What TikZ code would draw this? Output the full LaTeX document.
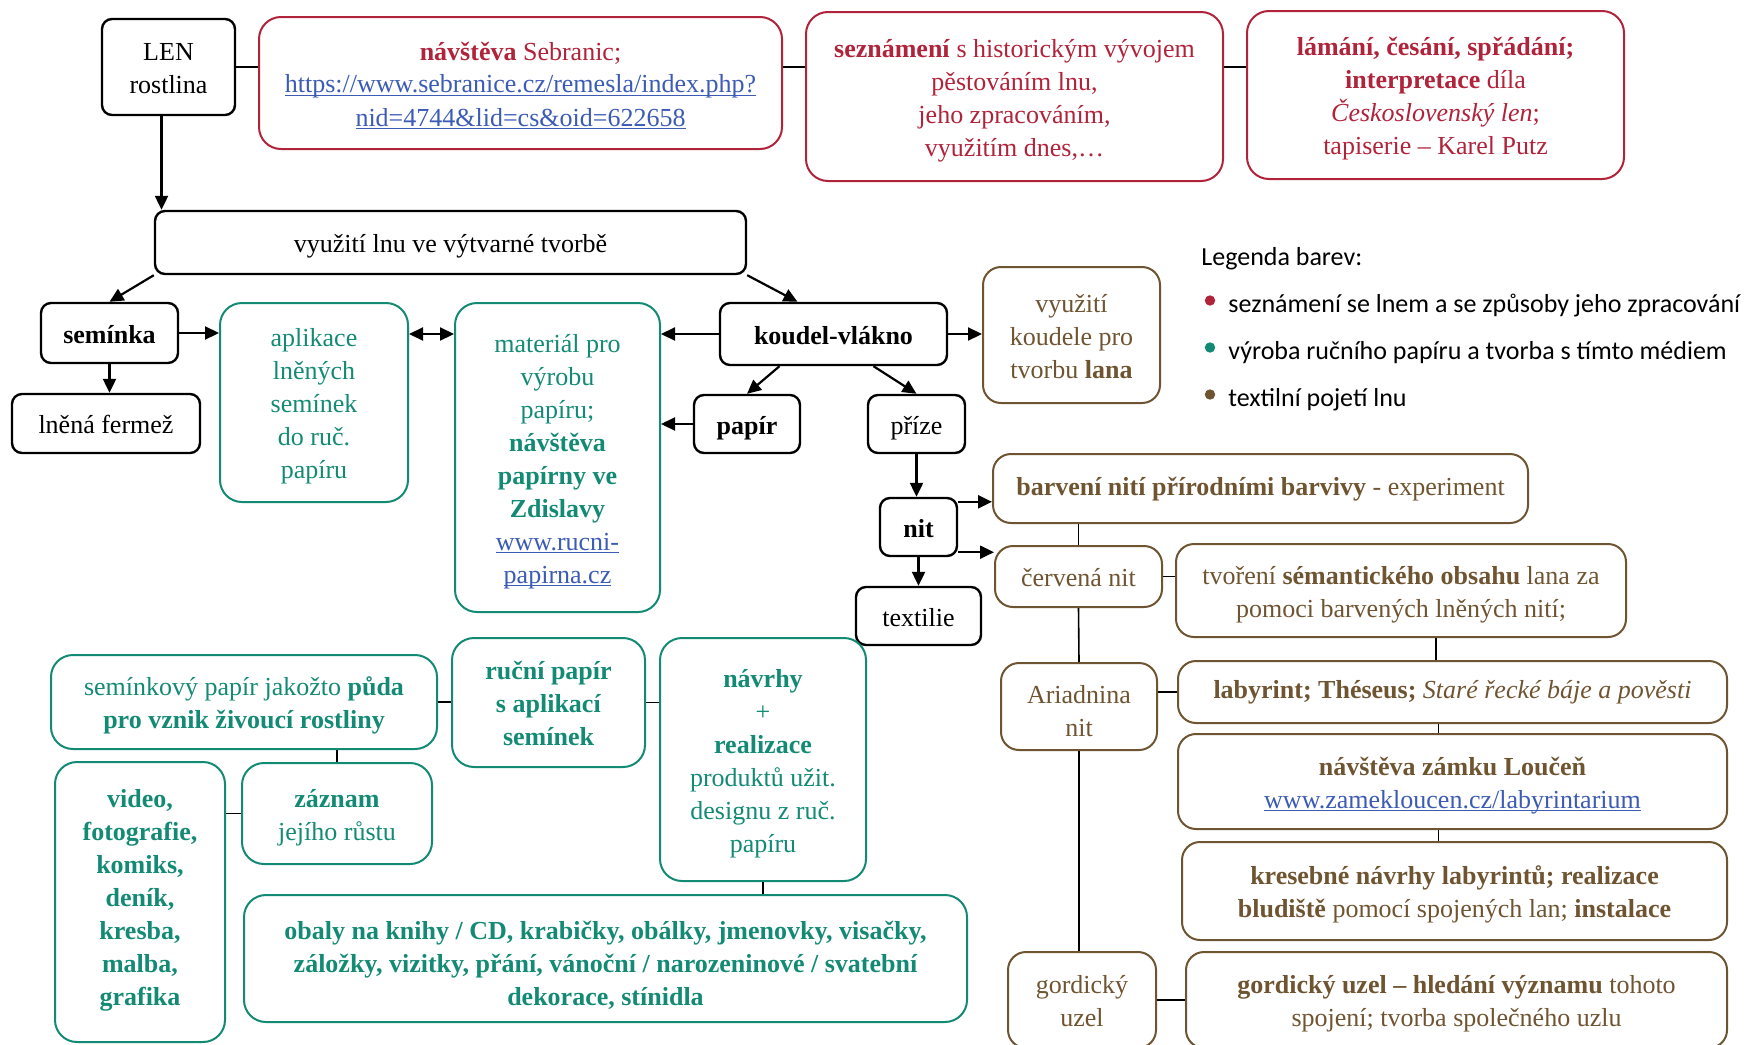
\documentclass[tikz,border=0pt]{standalone}
\usepackage{fontspec}
\setmainfont{Liberation Serif}
\newfontfamily\legendfont{Carlito}
\usetikzlibrary{arrows.meta}
\definecolor{lenred}{HTML}{B0233A}
\definecolor{lengreen}{HTML}{138A74}
\definecolor{lenbrown}{HTML}{6F5431}
\definecolor{lenlink}{HTML}{3B5BB5}
\newcommand{\lnk}[1]{\leavevmode{\color{lenlink}\setbox0\hbox{#1}\rlap{\rule[-1.5pt]{\wd0}{0.55pt}}\box0}}
\newcommand{\lenstrut}{\rule[-3.25pt]{0pt}{16.5pt}}
\begin{document}
\begin{tikzpicture}[x=0.5pt,y=-0.5pt,font=\fontsize{13}{16.5}\selectfont,
  basebox/.style={draw,inner sep=0pt,align=flush center,
    execute at begin node=\lenstrut,execute at end node=\lenstrut},
  boxsize/.style 2 args={text width=#1,minimum height=#2},
  textup/.style={execute at end node={\rule[-#1]{0pt}{#1}}},
  textdown/.style={execute at begin node={\rule{0pt}{#1}}},
  blackbox/.style={basebox,rounded corners=5pt,line width=1.2pt},
  redbox/.style={basebox,rounded corners=11pt,line width=1pt,draw=lenred,text=lenred},
  greenbox/.style={basebox,rounded corners=11pt,line width=1pt,draw=lengreen,text=lengreen},
  brownbox/.style={basebox,rounded corners=9pt,line width=1pt,draw=lenbrown,text=lenbrown},
  arr/.style={line width=1.1pt,-{Triangle[length=7pt,width=6.5pt]}},
  link/.style={line width=0.8pt},
  legend/.style={anchor=west,inner sep=0pt,font=\legendfont\fontsize{13}{16}\selectfont},
  dot/.style={circle,inner sep=0pt,minimum size=5.2pt}]
  \useasboundingbox (0,0) rectangle (1744,1044);
  \clip (0,0) rectangle (1744,1044);
  % top row
  \node[blackbox,boxsize={66.5pt}{48pt}] (len) at (168.5,67) {LEN\\rostlina};
  \node[redbox,boxsize={261.5pt}{66pt}] (sebr) at (520.5,83)
    {\textbf{návštěva} Sebranic;\\\lnk{https://www.sebranice.cz/remesla/index.php?}\\\lnk{nid=4744\&lid=cs\&oid=622658}};
  \node[redbox,boxsize={208.5pt}{84.5pt}] (sezn) at (1014.5,96.5)
    {\textbf{seznámení} s historickým vývojem\\pěstováním lnu,\\jeho zpracováním,\\využitím dnes,…};
  \node[redbox,boxsize={188.5pt}{84pt}] (lamani) at (1435.5,95)
    {\textbf{lámání, česání, spřádání;}\\\textbf{interpretace} díla\\\textit{Československý len};\\tapiserie – Karel Putz};
  \node[blackbox,boxsize={295.5pt}{31.5pt}] (vyuziti) at (450.5,242.5) {využití lnu ve výtvarné tvorbě};
  % middle
  \node[blackbox,boxsize={68.5pt}{30pt}] (seminka) at (109.5,333) {\textbf{semínka}};
  \node[blackbox,boxsize={94pt}{29.5pt}] (fermez) at (106,423.5) {lněná fermež};
  \node[greenbox,boxsize={94pt}{99.5pt}] (aplikace) at (314,402.5)
    {aplikace\\lněných\\semínek\\do ruč.\\papíru};
  \node[greenbox,boxsize={102.5pt}{154.5pt}] (material) at (557.5,457.5)
    {materiál pro\\výrobu\\papíru;\\\textbf{návštěva}\\\textbf{papírny ve}\\\textbf{Zdislavy}\\\lnk{www.rucni-}\\\lnk{papirna.cz}};
  \node[blackbox,boxsize={113.5pt}{31pt}] (koudel) at (833.5,334) {\textbf{koudel-vlákno}};
  \node[brownbox,boxsize={88.5pt}{68pt}] (koudlana) at (1071.5,335)
    {využití\\koudele pro\\tvorbu \textbf{lana}};
  \node[blackbox,boxsize={53pt}{29pt}] (papir) at (747,424) {\textbf{papír}};
  \node[blackbox,boxsize={48.5pt}{29pt}] (prize) at (916.5,424) {příze};
  \node[blackbox,boxsize={38.5pt}{29pt}] (nit) at (918.5,527) {\textbf{nit}};
  \node[blackbox,boxsize={62.5pt}{29pt}] (textilie) at (918.5,616) {textilie};
  % textile branch
  \node[brownbox,boxsize={267.5pt}{34.5pt},textup=6.6pt] (barveni) at (1260.5,488.5)
    {\textbf{barvení nití přírodními barvivy} - experiment};
  \node[brownbox,boxsize={83.5pt}{30.5pt}] (cervena) at (1078.5,576.5) {červená nit};
  \node[brownbox,boxsize={225pt}{46.5pt}] (tvoreni) at (1401,590.5)
    {tvoření \textbf{sémantického obsahu} lana za\\pomoci barvených lněných nití;};
  \node[brownbox,boxsize={78pt}{43.5pt},textdown=16.6pt] (ariadna) at (1079,706.5) {Ariadnina\\nit};
  \node[brownbox,boxsize={274.5pt}{31pt},textup=6.6pt] (labyrint) at (1452.5,692)
    {\textbf{labyrint; Théseus;} \textit{Staré řecké báje a pověsti}};
  \node[brownbox,boxsize={274.5pt}{47.5pt}] (loucen) at (1452.5,781.5)
    {\textbf{návštěva zámku Loučeň}\\\lnk{www.zamekloucen.cz/labyrintarium}};
  \node[brownbox,boxsize={272.5pt}{49pt}] (kresba) at (1454.5,891)
    {\textbf{kresebné návrhy labyrintů; realizace}\\\textbf{bludiště} pomocí spojených lan; \textbf{instalace}};
  \node[brownbox,boxsize={74pt}{48pt}] (gordic) at (1082,1000) {gordický\\uzel};
  \node[brownbox,boxsize={270.5pt}{48pt}] (hledani) at (1456.5,1000)
    {\textbf{gordický uzel – hledání významu} tohoto\\spojení; tvorba společného uzlu};
  % paper branch
  \node[greenbox,boxsize={193pt}{47pt}] (seminpap) at (244,702)
    {semínkový papír jakožto \textbf{půda}\\\textbf{pro vznik živoucí rostliny}};
  \node[greenbox,boxsize={96.5pt}{64.5pt}] (rucni) at (548.5,702.5)
    {\textbf{ruční papír}\\\textbf{s aplikací}\\\textbf{semínek}};
  \node[greenbox,boxsize={103pt}{121.5pt}] (navrhy) at (763,759.5)
    {\textbf{návrhy}\\+\\\textbf{realizace}\\produktů užit.\\designu z ruč.\\papíru};
  \node[greenbox,boxsize={85pt}{140pt},textup=8.8pt,font=\fontsize{13}{16.5}\selectfont\bfseries] (video) at (140,902)
    {video,\\fotografie,\\komiks,\\deník,\\kresba,\\malba,\\grafika};
  \node[greenbox,boxsize={95pt}{50.5pt}] (zaznam) at (337,813.5) {\textbf{záznam}\\jejího růstu};
  \node[greenbox,boxsize={361.5pt}{63.5pt},textdown=17.6pt,font=\fontsize{13}{16.5}\selectfont\bfseries] (obaly) at (605.5,958.5)
    {obaly na knihy / CD, krabičky, obálky, jmenovky, visačky,\\záložky, vizitky, přání, vánoční / narozeninové / svatební\\dekorace, stínidla};
  % legend
  \node[legend] (legtitle) at (1201,259) {Legenda barev:};
  \node[dot,fill=lenred] (dotred) at (1210,300.5) {};
  \node[dot,fill=lengreen] (dotgreen) at (1210,347.5) {};
  \node[dot,fill=lenbrown] (dotbrown) at (1210,394.5) {};
  \node[legend] (legred) at (1228,305.5) {seznámení se lnem a se způsoby jeho zpracování};
  \node[legend] (leggreen) at (1228,352.5) {výroba ručního papíru a tvorba s tímto médiem};
  \node[legend] (legbrown) at (1228,399.5) {textilní pojetí lnu};
  % arrows
  \draw[arr] ([xshift=-3.5pt]len.south) -- ([xshift=-3.5pt]len.south |- vyuziti.north);
  \draw[arr] (vyuziti.south west) -- (seminka.north);
  \draw[arr] (vyuziti.south east) -- ([xshift=-18pt]koudel.north);
  \draw[arr] (seminka.east) -- (aplikace.west |- seminka.east);
  \draw[line width=1.1pt,{Triangle[length=7pt,width=6.5pt]}-{Triangle[length=7pt,width=6.5pt]}]
    (aplikace.east |- koudel.west) -- (material.west |- koudel.west);
  \draw[arr] (koudel.west) -- (material.east |- koudel.west);
  \draw[arr] (koudel.east) -- (koudlana.west |- koudel.east);
  \draw[arr] (seminka.south) -- (seminka.south |- fermez.north);
  \draw[arr] ([xshift=-27pt]koudel.south) -- (papir.north);
  \draw[arr] ([xshift=20pt]koudel.south) -- (prize.north);
  \draw[arr] (papir.west) -- (material.east |- papir.west);
  \draw[arr] (prize.south) -- (prize.south |- nit.north);
  \draw[arr] ([yshift=-2.5pt]nit.north east) -- ([yshift=-2.5pt]nit.north east -| barveni.west);
  \draw[arr] ([yshift=2.5pt]nit.south east) -- ([yshift=2.5pt]nit.south east -| cervena.west);
  \draw[arr] (nit.south) -- (nit.south |- textilie.north);
  % plain links
  \draw[link] (len.east) -- (sebr.west |- len.east);
  \draw[link] (sebr.east |- len.east) -- (sezn.west |- len.east);
  \draw[link] (sezn.east |- len.east) -- (lamani.west |- len.east);
  \draw[link] (cervena.north) -- (cervena.north |- barveni.south);
  \draw[link] (cervena.east) -- (tvoreni.west |- cervena.east);
  \draw[link] (cervena.south) -- (ariadna.north);
  \draw[link] ([xshift=17.5pt]tvoreni.south) -- ([xshift=17.5pt]tvoreni.south |- labyrint.north);
  \draw[link] (ariadna.east |- labyrint.west) -- (labyrint.west);
  \draw[link] ([xshift=-7pt]labyrint.south) -- ([xshift=-7pt]loucen.north);
  \draw[link] ([xshift=-7pt]loucen.south) -- ([xshift=-8pt]kresba.north);
  \draw[link] (ariadna.south) -- (ariadna.south |- gordic.north);
  \draw[link] (gordic.east) -- (hledani.west);
  \draw[link] (seminpap.east) -- (rucni.west |- seminpap.east);
  \draw[link] (rucni.east) -- (navrhy.west |- rucni.east);
  \draw[link] (zaznam.north) -- (zaznam.north |- seminpap.south);
  \draw[link] (zaznam.west) -- (video.east |- zaznam.west);
  \draw[link] (navrhy.south) -- (navrhy.south |- obaly.north);
\end{tikzpicture}
\end{document}
